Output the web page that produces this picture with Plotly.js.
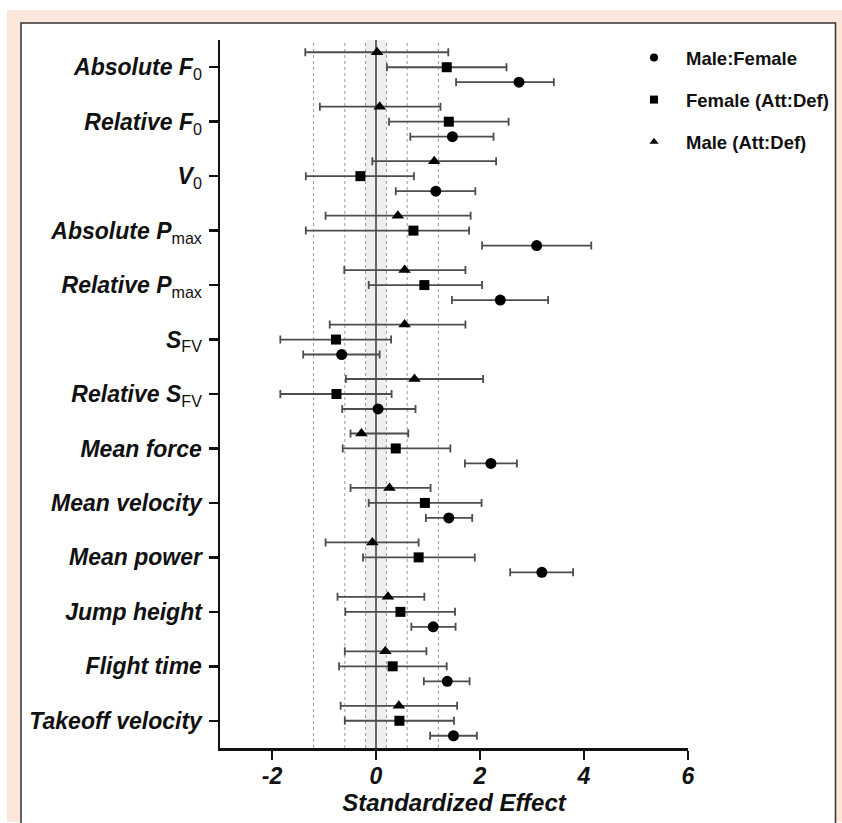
<!DOCTYPE html>
<html>
<head>
<meta charset="utf-8">
<script src="https://cdn.plot.ly/plotly-3.0.1.min.js"></script>
<style>
  html, body { margin: 0; padding: 0; background: #ffffff; }
  #chart { width: 842px; height: 823px; }
</style>
</head>
<body>
<div id="chart"></div>
<script>
// ---------- data (top to bottom) ----------
function sub(s) {
  return '<sub><span style="font-weight:normal;font-style:normal">' + s + '</span></sub>';
}
const categories = [
  'Absolute F' + sub('0'),
  'Relative F' + sub('0'),
  'V' + sub('0'),
  'Absolute P' + sub('max'),
  'Relative P' + sub('max'),
  'S' + sub('FV'),
  'Relative S' + sub('FV'),
  'Mean force',
  'Mean velocity',
  'Mean power',
  'Jump height',
  'Flight time',
  'Takeoff velocity'
];

const seriesNames = ['Male:Female', 'Female (Att:Def)', 'Male (Att:Def)'];

// Male:Female (circles)
const maleFemaleEst   = [2.75, 1.47, 1.15, 3.09, 2.39, -0.66, 0.04, 2.21, 1.40, 3.19, 1.10, 1.37, 1.49];
const maleFemaleLower = [1.54, 0.66, 0.38, 2.04, 1.46, -1.40, -0.65, 1.71, 0.96, 2.58, 0.68, 0.92, 1.04];
const maleFemaleUpper = [3.42, 2.26, 1.91, 4.14, 3.31, 0.07, 0.76, 2.71, 1.85, 3.79, 1.53, 1.80, 1.94];

// Female (Att:Def) (squares)
const femaleEst   = [1.36, 1.40, -0.30, 0.72, 0.93, -0.77, -0.76, 0.38, 0.94, 0.82, 0.47, 0.32, 0.45];
const femaleLower = [0.21, 0.25, -1.35, -1.35, -0.14, -1.84, -1.84, -0.64, -0.14, -0.25, -0.59, -0.71, -0.60];
const femaleUpper = [2.51, 2.55, 0.73, 1.79, 2.04, 0.29, 0.30, 1.43, 2.03, 1.90, 1.52, 1.36, 1.50];

// Male (Att:Def) (triangles)
const maleEst   = [0.02, 0.07, 1.12, 0.42, 0.55, 0.55, 0.74, -0.28, 0.26, -0.07, 0.23, 0.18, 0.44];
const maleLower = [-1.36, -1.08, -0.07, -0.97, -0.61, -0.89, -0.58, -0.49, -0.49, -0.97, -0.74, -0.60, -0.68];
const maleUpper = [1.39, 1.24, 2.31, 1.82, 1.72, 1.72, 2.06, 0.62, 1.05, 0.82, 0.93, 0.97, 1.56];

const xTicks = [-2, 0, 2, 4, 6];
const thresholds = [-1.2, -0.6, -0.2, 0.2, 0.6, 1.2];
const trivialBand = [-0.2, 0.2];

// ---------- construction ----------
const catIdx = categories.map((_, i) => i);
const FONT = 'Liberation Sans, Arial, Helvetica, sans-serif';

const symbols = ['circle', 'square', 'triangle-up'];
const plotSizes = [11, 10, 11];
const legendSizes = [8, 8, 8];
const offsets = [0.275, 0, -0.275];
const est = [maleFemaleEst, femaleEst, maleEst];
const lower = [maleFemaleLower, femaleLower, maleLower];
const upper = [maleFemaleUpper, femaleUpper, maleUpper];

const traces = [];
seriesNames.forEach((name, k) => {
  traces.push({
    type: 'scatter',
    mode: 'markers',
    name: name,
    legendgroup: 'g' + k,
    showlegend: false,
    x: est[k],
    y: catIdx.map(i => i + offsets[k]),
    marker: { symbol: symbols[k], size: plotSizes[k], color: '#000000' },
    error_x: {
      type: 'data',
      symmetric: false,
      array: est[k].map((v, i) => upper[k][i] - v),
      arrayminus: est[k].map((v, i) => v - lower[k][i]),
      color: '#4d4d4d',
      thickness: 1.8,
      width: 4
    },
    cliponaxis: false,
    hoverinfo: 'x+name'
  });
});
// legend entries (smaller symbols, as in the reference legend)
seriesNames.forEach((name, k) => {
  traces.push({
    type: 'scatter',
    mode: 'markers',
    name: name,
    legendgroup: 'g' + k,
    showlegend: true,
    x: [null], y: [null],
    marker: { symbol: symbols[k], size: legendSizes[k], color: '#000000' },
    hoverinfo: 'skip'
  });
});

// px -> paper helpers for decorative frame
const L = 220, R = 154, T = 40, B = 75, W = 842, H = 823;
const pw = W - L - R, ph = H - T - B;
const px = v => (v - L) / pw;
const py = v => (H - B - v) / ph;

const shapes = [
  { type: 'rect', xref: 'paper', yref: 'paper', layer: 'below',
    x0: px(7), x1: px(842), y0: py(822), y1: py(10),
    fillcolor: '#fbe7da', line: { width: 0 } },
  { type: 'rect', xref: 'paper', yref: 'paper', layer: 'below',
    x0: px(21), x1: px(835.5), y0: py(840), y1: py(23),
    fillcolor: '#ffffff', line: { color: '#333333', width: 1.5 } },
  { type: 'rect', xref: 'x', yref: 'paper', layer: 'below',
    x0: trivialBand[0], x1: trivialBand[1], y0: 0, y1: 1,
    fillcolor: '#efefef', line: { width: 0 } }
];
thresholds.forEach(t => shapes.push({
  type: 'line', xref: 'x', yref: 'paper', layer: 'below',
  x0: t, x1: t, y0: 0, y1: 1,
  line: { color: '#9a9a9a', width: 1, dash: 'dot' }
}));
shapes.push({
  type: 'line', xref: 'x', yref: 'paper', layer: 'below',
  x0: 0, x1: 0, y0: 0, y1: 1,
  line: { color: '#666666', width: 2 }
});

const layout = {
  width: W, height: H,
  margin: { l: L, r: R, t: T, b: B, pad: 0, autoexpand: false },
  paper_bgcolor: 'rgba(0,0,0,0)',
  plot_bgcolor: 'rgba(0,0,0,0)',
  font: { family: FONT, color: '#111111' },
  showlegend: true,
  legend: {
    x: px(622), xanchor: 'left',
    y: py(39), yanchor: 'top',
    traceorder: 'grouped',
    tracegroupgap: 15,
    itemwidth: 54,
    font: { family: FONT, size: 18.5, weight: 'bold', color: '#111111' },
    bgcolor: 'rgba(0,0,0,0)'
  },
  xaxis: {
    range: [-3, 6],
    tickvals: xTicks,
    ticktext: xTicks.map(String),
    showgrid: false, zeroline: false,
    showline: true, linecolor: '#111111', linewidth: 2.5,
    ticks: 'outside', ticklen: 9, tickwidth: 2.5, tickcolor: '#111111',
    ticklabelstandoff: -3,
    tickfont: { family: FONT, size: 23, weight: 'bold', style: 'italic', color: '#111111' },
    title: {
      text: 'Standardized Effect',
      standoff: 6,
      font: { family: FONT, size: 24, weight: 'bold', style: 'italic', color: '#111111' }
    }
  },
  yaxis: {
    range: [12.5, -0.5],
    tickvals: catIdx,
    ticktext: categories,
    showgrid: false, zeroline: false,
    showline: true, linecolor: '#111111', linewidth: 2.5,
    ticks: 'outside', ticklen: 9, tickwidth: 2.5, tickcolor: '#111111',
    ticklabelstandoff: 2,
    tickfont: { family: FONT, size: 23, weight: 'bold', style: 'italic', color: '#111111' }
  },
  shapes: shapes
};

Plotly.newPlot('chart', traces, layout, { displayModeBar: false, staticPlot: true });
</script>
</body>
</html>
